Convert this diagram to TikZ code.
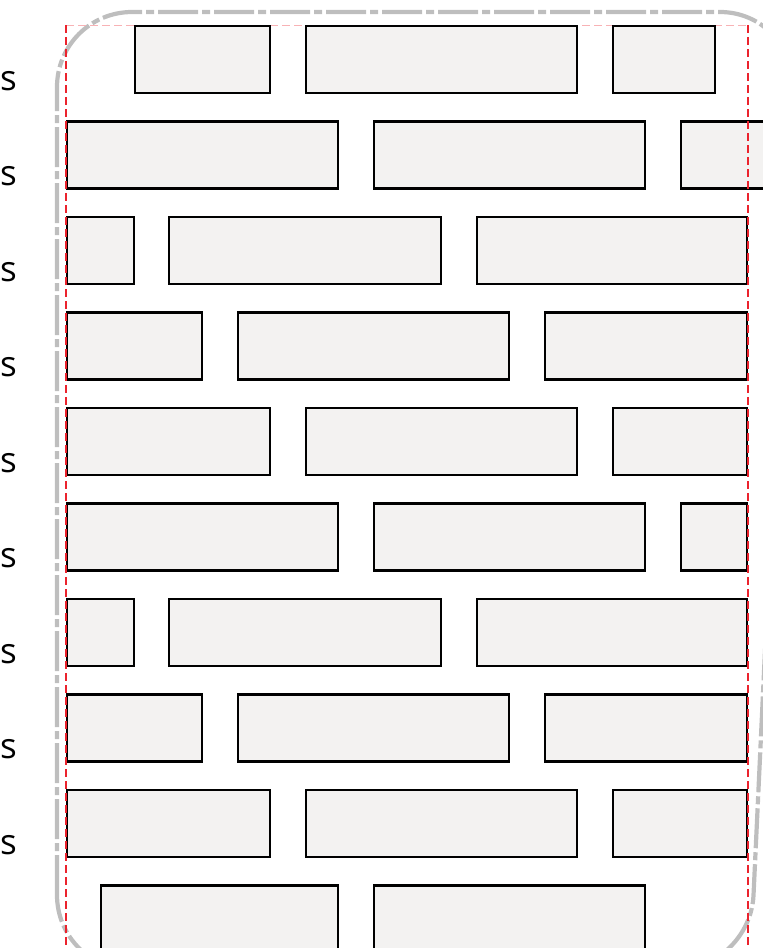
\documentclass[tikz,border=0pt]{standalone}
\usepackage{fontspec}
\setmainfont{Open Sans}
\definecolor{brickfill}{RGB}{243,242,241}
\definecolor{guidered}{RGB}{235,35,45}
\definecolor{framegray}{RGB}{190,190,190}
\tikzset{
  brick/.style={draw=black,line width=2.9pt,fill=brickfill},
  guide/.style={draw=guidered,line width=1.2pt,dash pattern=on 8pt off 4pt},
  frame/.style={draw=framegray,line width=4.2pt,
    dash pattern=on 40pt off 4pt on 8pt off 4pt,rounded corners=75pt},
  lbl/.style={anchor=base east,inner sep=0pt,
    font=\fontsize{35}{42}\selectfont}
}
\begin{document}
\begin{tikzpicture}[x=1pt,y=-1pt]
\useasboundingbox (0,0) rectangle (763,948);
\begin{scope}
\clip (0,0) rectangle (763,948);
\draw[frame] (57,970) -- (57,12) -- (795,12) -- (750,970) -- cycle;
\draw[guide,draw=guidered!35,line width=0.6pt] (66,25) -- (748,25);
\draw[brick] (135,26) rectangle (270,93) (306,26) rectangle (577,93)
  (613,26) rectangle (715,93);
\draw[brick] (67,121.5) rectangle (338,188.5) (374,121.5) rectangle (645,188.5)
  (681,121.5) rectangle (775,188.5);
\draw[brick] (67,217) rectangle (134,284) (169,217) rectangle (441,284)
  (477,217) rectangle (747,284);
\draw[brick] (67,312.5) rectangle (202,379.5) (238,312.5) rectangle (509,379.5)
  (545,312.5) rectangle (747,379.5);
\draw[brick] (67,408) rectangle (270,475) (306,408) rectangle (577,475)
  (613,408) rectangle (747,475);
\draw[brick] (67,503.5) rectangle (338,570.5) (374,503.5) rectangle (645,570.5)
  (681,503.5) rectangle (747,570.5);
\draw[brick] (67,599) rectangle (134,666) (169,599) rectangle (441,666)
  (477,599) rectangle (747,666);
\draw[brick] (67,694.5) rectangle (202,761.5) (238,694.5) rectangle (509,761.5)
  (545,694.5) rectangle (747,761.5);
\draw[brick] (67,790) rectangle (270,857) (306,790) rectangle (577,857)
  (613,790) rectangle (747,857);
\draw[brick] (101,885.5) rectangle (338,960) (374,885.5) rectangle (645,960);
\draw[guide] (66,25) -- (66,948);
\draw[guide] (748,25) -- (748,948);
\end{scope}
\foreach \i in {1,...,9}
  \node[lbl] (s\i) at (17,{90+95.5*(\i-1)}) {s};
\end{tikzpicture}
\end{document}
